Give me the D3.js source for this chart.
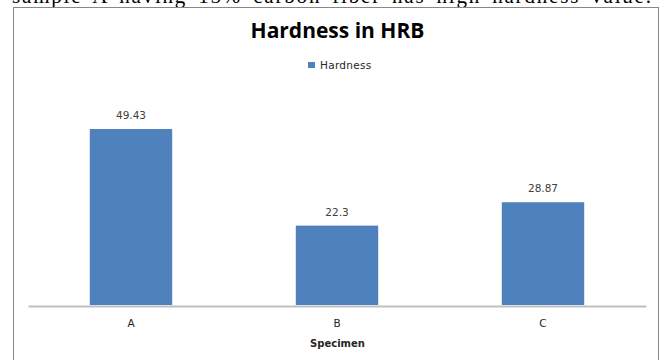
<!DOCTYPE html>
<html>
<head>
<meta charset="utf-8">
<script src="https://cdn.jsdelivr.net/npm/d3@7"></script>
<style>
  body { margin: 0; background: #fff; }
  .bar { fill: #4f81bd; }
  .label { font-family: "DejaVu Sans", sans-serif; font-size: 10.5px; fill: #404040; text-anchor: middle; }
  .cat { font-family: "DejaVu Sans", sans-serif; font-size: 10.5px; fill: #262626; text-anchor: middle; }
  .chart-title { font-family: "Open Sans", sans-serif; font-weight: bold; font-size: 21px; fill: #000; text-anchor: middle; }
</style>
</head>
<body>
<div id="chart"></div>
<script>
// data
const specimens = ["A", "B", "C"];
const hardness = [49.43, 22.3, 28.87];
const seriesName = "Hardness";
const chartTitle = "Hardness in HRB";
const xTitle = "Specimen";
const yMax = 60;

(function () {
  const svg_width = 666, svg_height = 360;
  const plot = { left: 28, right: 646, top: 91.4, bottom: 305 };

  const svg = d3.select("#chart").append("svg")
    .attr("width", svg_width)
    .attr("height", svg_height);

  // caption line cut at the top of the page (as in the scanned source)
  svg.append("text")
    .attr("x", 12)
    .attr("y", 3)
    .attr("textLength", 639)
    .attr("lengthAdjust", "spacing")
    .style("font-family", "'Liberation Serif', serif")
    .style("font-size", "21px")
    .style("word-spacing", "4px")
    .text("sample A having 15% carbon fiber has high hardness value.");

  // chart frame
  svg.append("rect")
    .attr("x", 13.5).attr("y", 7.5)
    .attr("width", 645).attr("height", 360)
    .attr("fill", "none")
    .attr("stroke", "#878787");

  const x = d3.scaleBand()
    .domain(specimens)
    .range([plot.left, plot.right])
    .paddingInner(0.6)
    .paddingOuter(0.3);
  const y = d3.scaleLinear()
    .domain([0, yMax])
    .range([plot.bottom, plot.top]);

  const data = specimens.map((s, i) => ({ name: s, value: hardness[i] }));

  // title
  svg.append("text")
    .attr("class", "chart-title")
    .attr("x", 337.5)
    .attr("y", 38)
    .text(chartTitle);

  // legend
  const leg = svg.append("g").attr("transform", "translate(308,62)");
  leg.append("rect").attr("width", 7).attr("height", 6).attr("fill", "#4f81bd");
  leg.append("text")
    .attr("x", 12).attr("y", 7)
    .style("font-family", "'DejaVu Sans', sans-serif")
    .style("font-size", "10.5px")
    .style("letter-spacing", "0.3px")
    .attr("fill", "#262626")
    .text(seriesName);

  // bars
  svg.selectAll(".bar")
    .data(data)
    .enter().append("rect")
    .attr("class", "bar")
    .attr("x", d => x(d.name))
    .attr("y", d => y(d.value))
    .attr("width", x.bandwidth())
    .attr("height", d => y(0) - y(d.value));

  // data labels
  svg.selectAll(".label")
    .data(data)
    .enter().append("text")
    .attr("class", "label")
    .attr("x", d => x(d.name) + x.bandwidth() / 2)
    .attr("y", d => y(d.value) - 10)
    .text(d => d.value);

  // x axis
  const xAxis = svg.append("g")
    .attr("transform", "translate(0," + (plot.bottom + 1) + ")")
    .call(d3.axisBottom(x).tickSize(0).tickPadding(14));
  xAxis.select(".domain").attr("stroke", "#bfbfbf").attr("stroke-width", 2);
  xAxis.selectAll("text")
    .attr("class", "cat")
    .attr("font-family", null).attr("font-size", null);

  svg.append("text")
    .attr("x", 337.5)
    .attr("y", 347)
    .attr("text-anchor", "middle")
    .style("font-family", "'DejaVu Sans', sans-serif")
    .style("font-weight", "bold")
    .style("font-size", "10px")
    .attr("fill", "#262626")
    .text(xTitle);
})();
</script>
</body>
</html>
